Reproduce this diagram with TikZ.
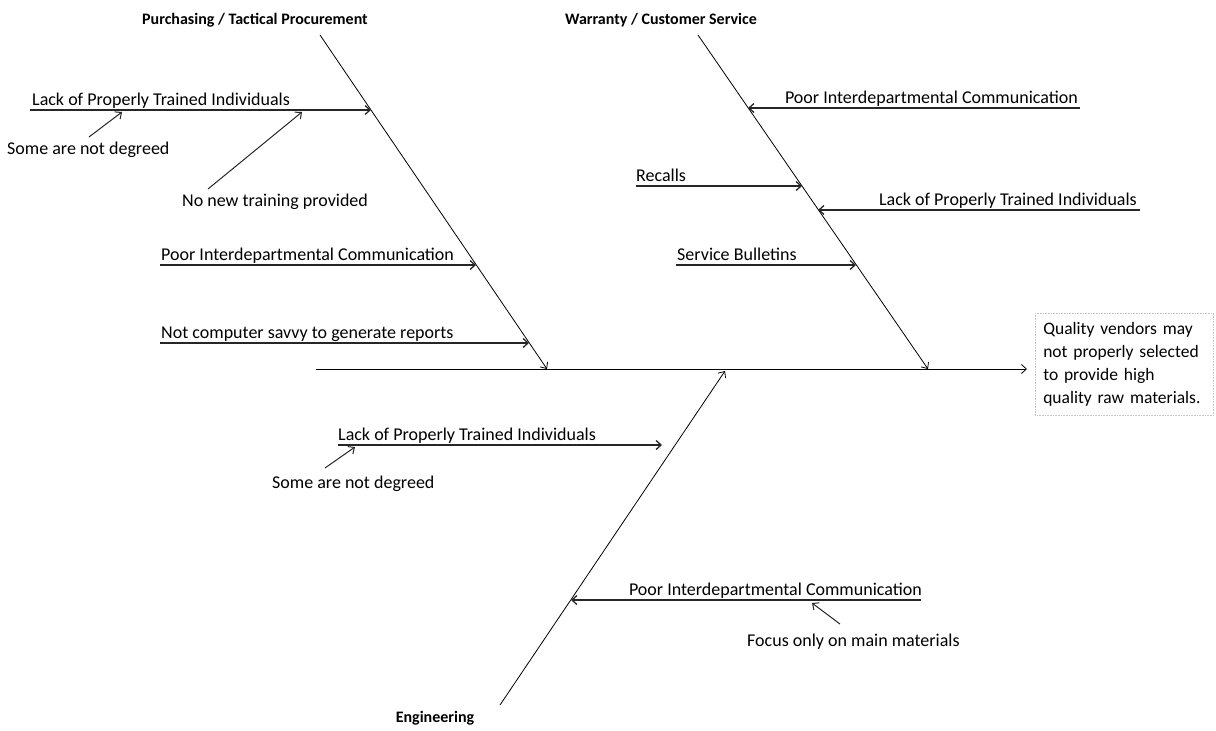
\documentclass[tikz,border=0pt]{standalone}
\usepackage{fontspec}
\setmainfont{Carlito}
\usetikzlibrary{arrows.meta}

\begin{document}
\begin{tikzpicture}[x=1pt, y=-1pt,
    bone/.style={line width=0.8pt, black},
    bonearrow/.style={bone, -{Straight Barb[length=5pt, width=9pt]}},
    cause/.style={line width=1.3pt, black!85, -{Straight Barb[length=5pt, width=9pt]}},
    txt/.style={font=\fontsize{18}{21}\selectfont, inner sep=0pt},
    head/.style={font=\fontsize{16}{20}\selectfont\bfseries, inner sep=0pt}]
    \useasboundingbox (0,0) rectangle (1216,731);

    % Spine
    \coordinate (S0) at (316, 369);
    \coordinate (S1) at (1027, 369);
    \draw[bonearrow] (S0) -- (S1);

    % Effect box
    \node[draw=gray!45, densely dotted, line width=0.6pt, anchor=north west,
          inner xsep=8pt, inner ysep=9pt, text width=162pt, align=left,
          font=\fontsize{17.5}{23}\selectfont] (effect) at (1035, 313)
        {Quality vendors may\\ not properly selected\\ to provide high\\ quality raw materials.};

    % Main bones
    \coordinate (P0) at (320, 35);
    \coordinate (P1) at (547, 369);
    \coordinate (W0) at (698, 35);
    \coordinate (W1) at (928, 369);
    \coordinate (E0) at (500, 705);
    \coordinate (E1) at (725, 371);
    \draw[bonearrow] (P0) -- (P1);
    \draw[bonearrow] (W0) -- (W1);
    \draw[bonearrow] (E0) -- (E1);

    % Titles
    \node[head, anchor=center] (purch) at (255, 20) {Purchasing / Tactical Procurement};
    \node[head, anchor=center] (warr) at (661, 20) {Warranty / Customer Service};
    \node[head, anchor=center] (eng) at (435, 718) {Engineering};

    % Purchasing causes
    \coordinate (pa0) at (30, 110);   \coordinate (pa1) at (371, 110);
    \coordinate (pb0) at (160, 265);  \coordinate (pb1) at (476, 265);
    \coordinate (pc0) at (160, 343);  \coordinate (pc1) at (529, 343);
    \draw[cause] (pa0) -- (pa1);
    \draw[cause] (pb0) -- (pb1);
    \draw[cause] (pc0) -- (pc1);
    \node[txt, anchor=base west] (plack) at (32, 105) {Lack of Properly Trained Individuals};
    \node[txt, anchor=base west] (ppoor) at (161, 260) {Poor Interdepartmental Communication};
    \node[txt, anchor=base west] (pcomp) at (161, 338) {Not computer savvy to generate reports};

    % Purchasing sub-causes
    \node[txt, anchor=base west] (pdeg) at (7, 154) {Some are not degreed};
    \node[txt, anchor=base west] (ptrain) at (182, 206) {No new training provided};
    \coordinate (pd0) at (89, 137);   \coordinate (pd1) at (122, 112);
    \coordinate (pt0) at (208, 189);  \coordinate (pt1) at (302, 112);
    \draw[cause, line width=1pt] (pd0) -- (pd1);
    \draw[cause, line width=1pt] (pt0) -- (pt1);

    % Warranty causes
    \coordinate (wa0) at (1080, 108); \coordinate (wa1) at (748, 108);
    \coordinate (wb0) at (636, 186);  \coordinate (wb1) at (802, 186);
    \coordinate (wc0) at (1140, 210); \coordinate (wc1) at (818, 210);
    \coordinate (wd0) at (676, 265);  \coordinate (wd1) at (856, 265);
    \draw[cause] (wa0) -- (wa1);
    \draw[cause] (wb0) -- (wb1);
    \draw[cause] (wc0) -- (wc1);
    \draw[cause] (wd0) -- (wd1);
    \node[txt, anchor=base east] (wpoor) at (1078, 103) {Poor Interdepartmental Communication};
    \node[txt, anchor=base west] (wrec) at (636, 181) {Recalls};
    \node[txt, anchor=base east] (wlack) at (1137, 205) {Lack of Properly Trained Individuals};
    \node[txt, anchor=base west] (wserv) at (677, 260) {Service Bulletins};

    % Engineering causes
    \coordinate (ea0) at (338, 445);  \coordinate (ea1) at (662, 445);
    \coordinate (eb0) at (921, 600);  \coordinate (eb1) at (571, 600);
    \draw[cause] (ea0) -- (ea1);
    \draw[cause] (eb0) -- (eb1);
    \node[txt, anchor=base west] (elack) at (338, 440) {Lack of Properly Trained Individuals};
    \node[txt, anchor=base east] (epoor) at (922, 595) {Poor Interdepartmental Communication};

    % Engineering sub-causes
    \node[txt, anchor=base west] (edeg) at (272, 488) {Some are not degreed};
    \node[txt, anchor=base west] (efoc) at (747, 646) {Focus only on main materials};
    \coordinate (ed0) at (325, 468);  \coordinate (ed1) at (355, 447);
    \coordinate (ef0) at (840, 624);  \coordinate (ef1) at (812, 603);
    \draw[cause, line width=1pt] (ed0) -- (ed1);
    \draw[cause, line width=1pt] (ef0) -- (ef1);
\end{tikzpicture}
\end{document}
